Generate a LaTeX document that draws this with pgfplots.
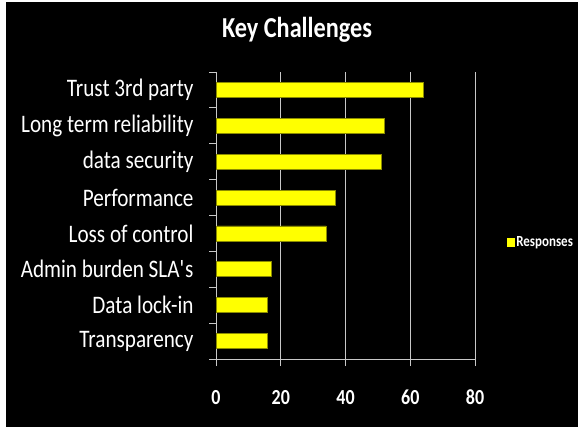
\documentclass[border=0pt]{standalone}
\usepackage{fontspec}
\setmainfont{Carlito}[FakeStretch=0.84]
\usepackage{pgfplots}
\pgfplotsset{compat=1.18}
\definecolor{baryellow}{HTML}{FFFF00}
\definecolor{baredge}{HTML}{8C8C00}
\definecolor{gridgrey}{HTML}{C8C8C8}
\begin{document}
\begin{tikzpicture}[x=1bp,y=1bp]
\useasboundingbox (0,0) rectangle (578,431);
\fill[white] (0,0) rectangle (578,431);
\fill[black] (6,4) rectangle (578,429);
\begin{axis}[
  at={(216bp,72bp)}, anchor=south west,
  scale only axis, width=259bp, height=287bp,
  xbar, bar width=15bp,
  xmin=0, xmax=80, ymin=-0.5, ymax=7.5,
  xtick={0,20,40,60,80},
  ytick={0,...,7},
  yticklabels={Transparency,Data lock-in,Admin burden SLA\textquotesingle s,Loss of control,Performance,data security,Long term reliability,Trust 3rd party},
  minor ytick={-0.5,0.5,...,7.5},
  major tick length=7bp,
  minor tick length=7bp,
  major y tick style={draw=none},
  tick align=outside,
  axis x line*=bottom, axis y line*=left,
  axis line style={gridgrey, line width=0.8bp},
  every tick/.style={gridgrey, line width=0.8bp},
  every minor tick/.style={gridgrey, line width=0.8bp},
  xmajorgrids, major grid style={gridgrey, line width=0.8bp},
  /pgf/number format/assume math mode=true,
  xticklabel style={font=\bfseries\fontsize{21.5}{21.5}\selectfont, text=white, anchor=base, yshift=-38bp},
  yticklabel style={font=\fontsize{25.3}{25.3}\selectfont, text=white, xshift=-12bp},
  title={Key Challenges},
  title style={font=\bfseries\fontsize{29}{29}\selectfont, text=white, at={(rel axis cs:0.313,1.101)}, anchor=base},
  legend style={at={(rel axis cs:1.121,0.408)}, anchor=west, fill=none, draw=none, text=white, font=\bfseries\fontsize{15.5}{15.5}\selectfont, inner sep=0pt},
  legend image code/.code={\fill[baryellow] (0bp,-4bp) rectangle (7bp,4bp);},
]
\addplot[fill=baryellow, draw=baredge, line width=0.8bp] coordinates {
  (16,0) (16,1) (17,2) (34,3) (37,4) (51,5) (52,6) (64,7)
};
\legend{Responses}
\end{axis}
\end{tikzpicture}
\end{document}
